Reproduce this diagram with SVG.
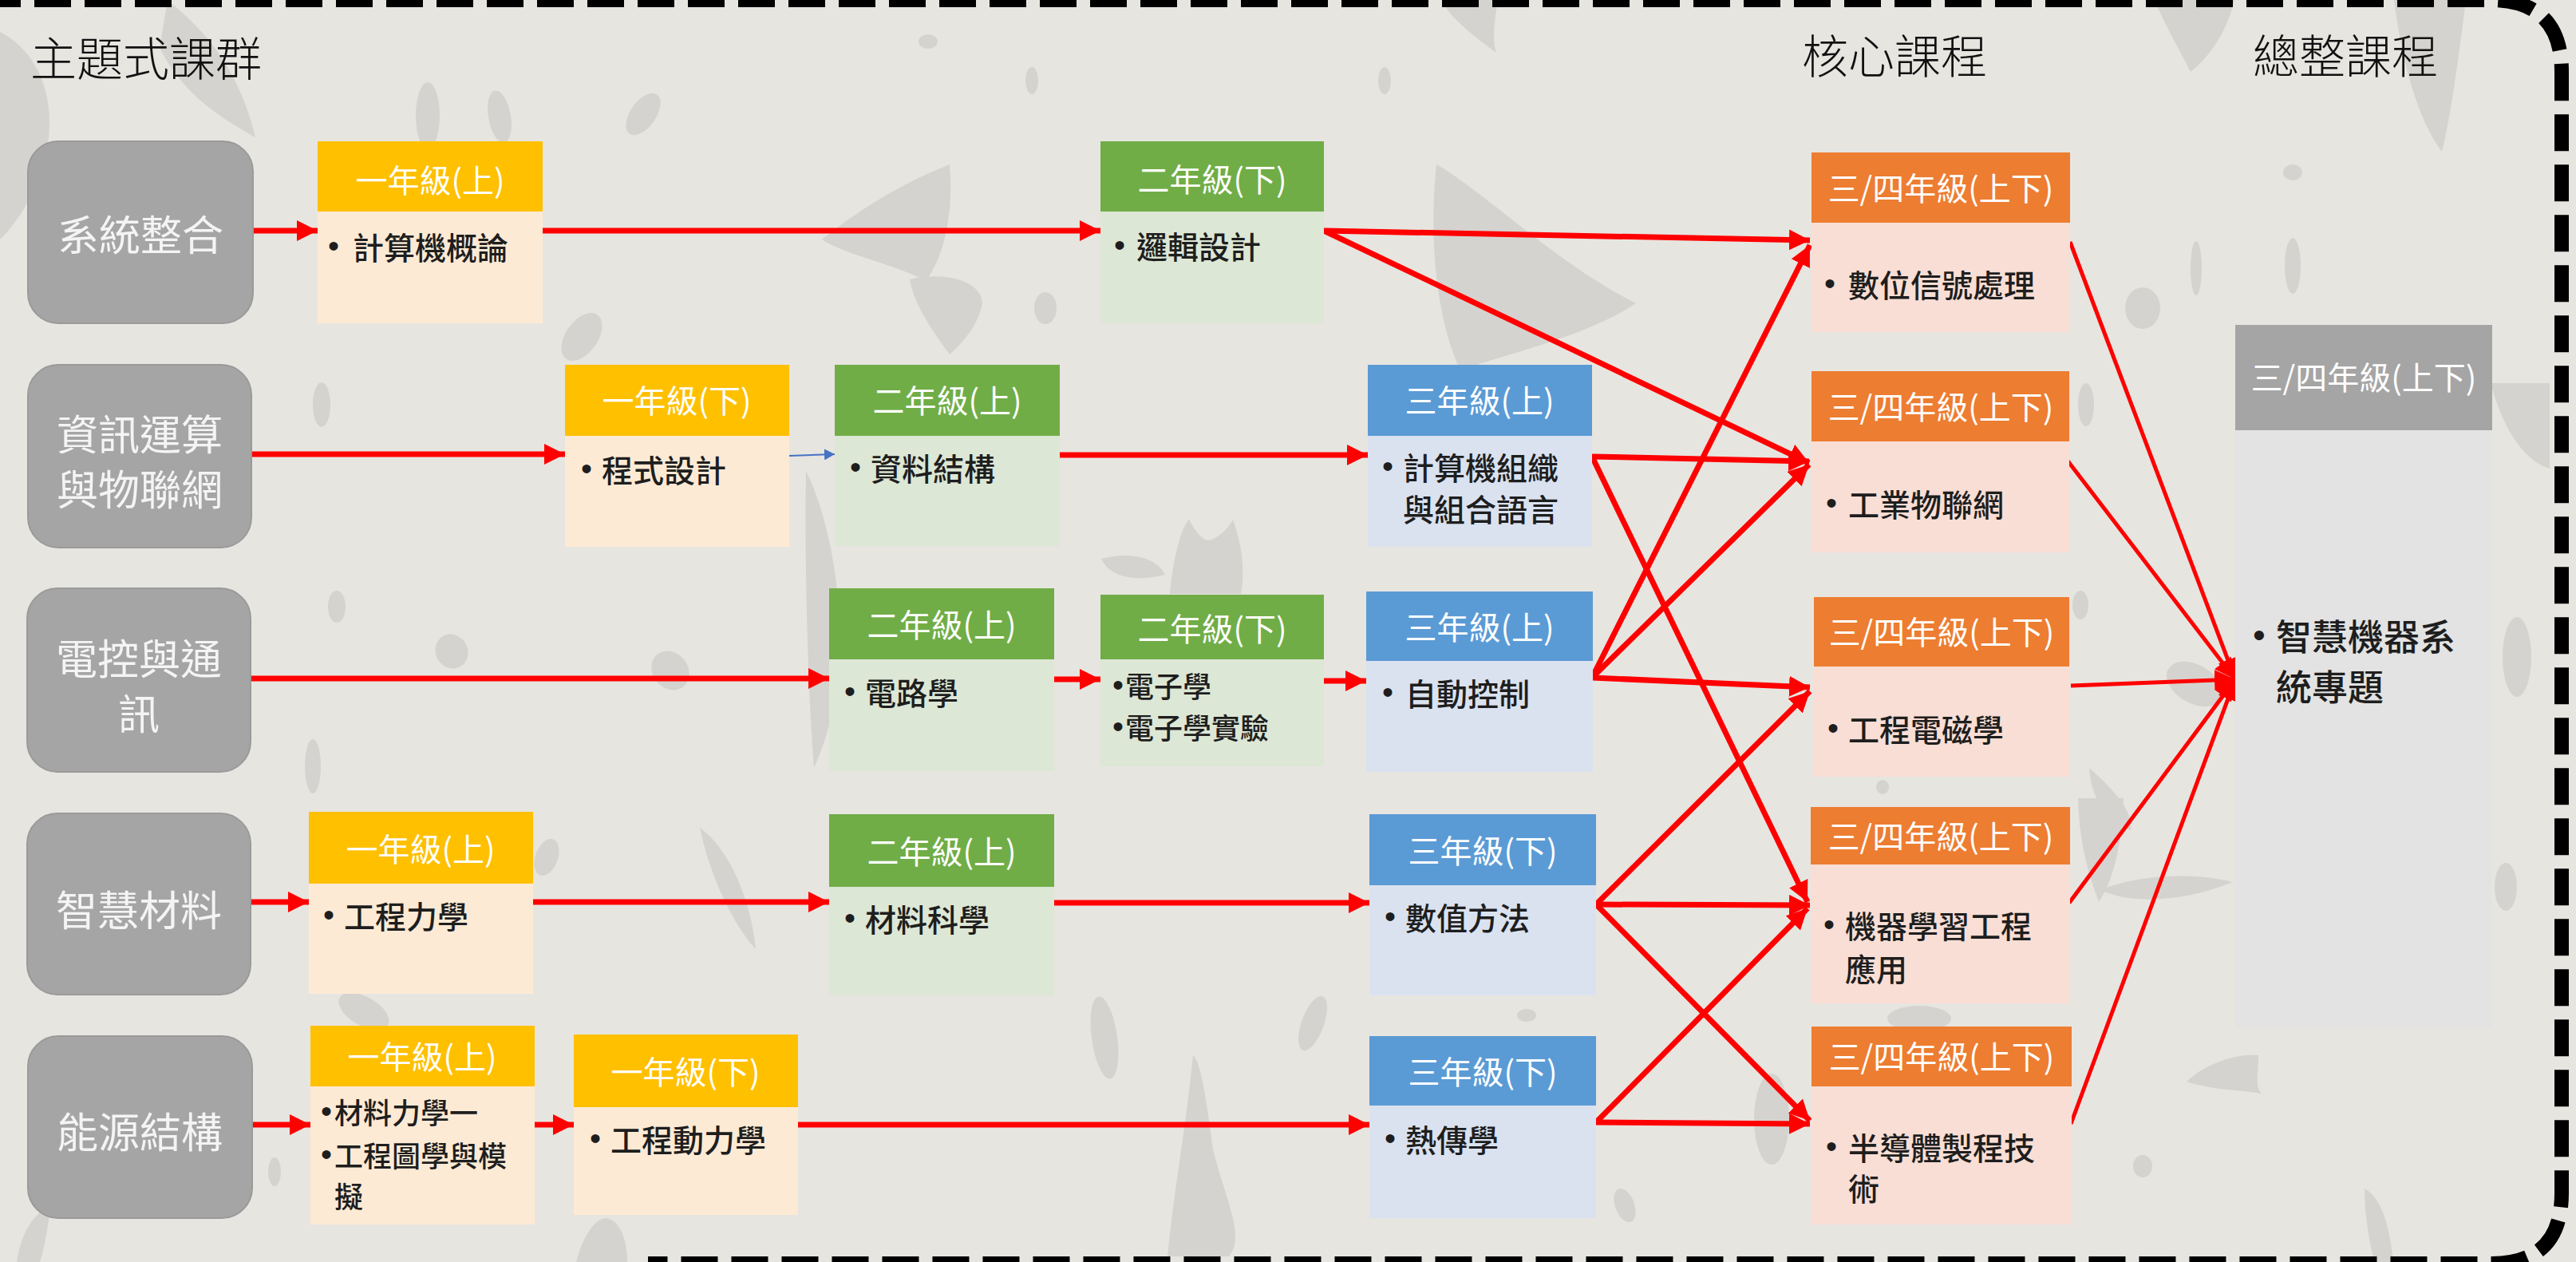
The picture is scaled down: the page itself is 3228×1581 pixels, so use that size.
<svg xmlns="http://www.w3.org/2000/svg" width="3228" height="1581" viewBox="0 0 3228 1581">
<style>
text{font-family:'Noto Sans CJK TC','Noto Sans CJK SC',sans-serif;dominant-baseline:central}
.title{font-size:58px;fill:#111;font-weight:300}
.g{fill:#A5A5A5;stroke:#9A9A9A;stroke-width:2}
.gt{font-size:52px;fill:#F4F4F4;text-anchor:middle}
.hy{fill:#FFC000}.by{fill:#FDEAD5}
.hg{fill:#70AD47}.bg{fill:#DDE7D5}
.hb{fill:#5B9BD5}.bb{fill:#DAE2F0}
.ho{fill:#ED7D31}.bo{fill:#F9DED5}
.hx{fill:#A5A5A5}.bx{fill:#E3E3E3}
.ht{font-size:40px;fill:#FFFFFF;text-anchor:middle}
.bt{font-size:39px;fill:#1E1E1E;font-weight:500}
.bs{font-size:36px;fill:#1E1E1E;font-weight:500}
.bu{font-family:'Liberation Sans',sans-serif;font-size:40px;fill:#1E1E1E;text-anchor:middle}
.ln{stroke:#FF0000;stroke-width:7;fill:none;marker-end:url(#ah)}
.lt{stroke:#FF0000;stroke-width:5;fill:none;marker-end:url(#ah)}
.lb{stroke:#4472C4;stroke-width:2;fill:none;marker-end:url(#ahb)}
.blob{fill:#D5D3CF}
</style>
<defs>
<marker id="ah" markerUnits="userSpaceOnUse" markerWidth="28" markerHeight="26" refX="26" refY="13" orient="auto"><path d="M0,0 L26,13 L0,26 z" fill="#FF0000"/></marker>
<marker id="ahb" markerUnits="userSpaceOnUse" markerWidth="14" markerHeight="14" refX="13" refY="7" orient="auto"><path d="M0,0 L13,7 L0,14 z" fill="#4472C4"/></marker>
</defs>
<rect x="0" y="0" width="3228" height="1581" fill="#E7E5E0"/>
<g id="background-pattern">
<path class="blob" d="M0,40 C40,60 70,110 60,180 C50,240 20,280 0,300 Z"/>
<path class="blob" d="M210,0 C260,40 300,90 320,172 C280,150 230,120 200,60 Z"/>
<ellipse class="blob" cx="536" cy="145" rx="15" ry="42"/>
<ellipse class="blob" cx="626" cy="146" rx="14" ry="33" transform="rotate(-10 626 146)"/>
<ellipse class="blob" cx="806" cy="143" rx="30" ry="16" transform="rotate(-55 806 143)"/>
<ellipse class="blob" cx="729" cy="422" rx="34" ry="20" transform="rotate(-55 729 422)"/>
<ellipse class="blob" cx="1163" cy="52" rx="12" ry="9"/>
<ellipse class="blob" cx="1293" cy="101" rx="8" ry="17"/>
<ellipse class="blob" cx="1735" cy="101" rx="8" ry="17"/>
<path class="blob" d="M1030,300 C1080,260 1130,230 1190,206 C1195,260 1185,320 1160,352 C1120,330 1060,320 1030,300 Z"/>
<path class="blob" d="M1140,350 C1180,340 1230,350 1231,380 C1225,410 1205,430 1190,444 C1165,410 1145,380 1140,350 Z"/>
<ellipse class="blob" cx="1310" cy="386" rx="14" ry="20"/>
<path class="blob" d="M1800,206 C1860,240 1950,330 2050,380 C1990,420 1900,440 1830,464 C1800,400 1790,300 1800,206 Z"/>
<path class="blob" d="M1807,0 L1877,0 C1872,30 1870,50 1875,66 C1840,40 1815,20 1807,0 Z"/>
<ellipse class="blob" cx="403" cy="507" rx="11" ry="28"/>
<ellipse class="blob" cx="422" cy="760" rx="11" ry="20"/>
<ellipse class="blob" cx="566" cy="816" rx="20" ry="22" transform="rotate(-30 566 816)"/>
<ellipse class="blob" cx="840" cy="840" rx="22" ry="26" transform="rotate(-40 840 840)"/>
<ellipse class="blob" cx="392" cy="960" rx="10" ry="34"/>
<path class="blob" d="M1010,590 C1040,650 1060,760 1050,850 C1045,900 1030,940 1020,962 C1012,860 1008,700 1010,590 Z"/>
<path class="blob" d="M1466,744 C1470,700 1480,660 1490,651 C1500,670 1510,680 1518,676 C1530,672 1540,660 1545,651 C1555,680 1561,710 1555,744 Z"/>
<path class="blob" d="M1380,700 C1420,690 1450,700 1460,720 C1420,730 1390,722 1380,700 Z"/>
<path class="blob" d="M877,1037 C910,1060 940,1120 947,1189 C920,1160 890,1100 877,1037 Z"/>
<ellipse class="blob" cx="685" cy="1074" rx="14" ry="24" transform="rotate(20 685 1074)"/>
<ellipse class="blob" cx="456" cy="1267" rx="35" ry="18" transform="rotate(30 456 1267)"/>
<ellipse class="blob" cx="344" cy="1468" rx="8" ry="18"/>
<path class="blob" d="M722,1581 C730,1550 745,1526 760,1526 C780,1530 786,1560 786,1581 Z"/>
<path class="blob" d="M21,1581 C25,1550 40,1520 63,1511 C60,1540 55,1565 50,1581 Z"/>
<path class="blob" d="M1463,1574 C1470,1500 1485,1420 1495,1322 C1505,1330 1512,1380 1520,1440 C1535,1500 1561,1550 1540,1574 Z"/>
<ellipse class="blob" cx="1384" cy="1300" rx="16" ry="52" transform="rotate(-8 1384 1300)"/>
<ellipse class="blob" cx="1645" cy="1282" rx="14" ry="36" transform="rotate(20 1645 1282)"/>
<ellipse class="blob" cx="1913" cy="1272" rx="12" ry="8"/>
<ellipse class="blob" cx="2036" cy="1510" rx="12" ry="22" transform="rotate(-20 2036 1510)"/>
<path class="blob" d="M2700,0 L2800,0 C2790,40 2770,70 2745,90 C2730,60 2712,30 2700,0 Z"/>
<path class="blob" d="M3000,0 L3090,0 C3080,80 3070,150 3060,190 C3030,150 3010,80 3000,0 Z"/>
<ellipse class="blob" cx="2873" cy="216" rx="12" ry="10"/>
<ellipse class="blob" cx="2873" cy="333" rx="10" ry="35"/>
<ellipse class="blob" cx="2752" cy="336" rx="7" ry="34"/>
<ellipse class="blob" cx="2685" cy="386" rx="22" ry="26"/>
<ellipse class="blob" cx="2614" cy="507" rx="10" ry="27"/>
<ellipse class="blob" cx="2607" cy="758" rx="10" ry="18"/>
<ellipse class="blob" cx="2359" cy="986" rx="8" ry="9"/>
<path class="blob" d="M2618,962 C2650,990 2675,1020 2670,1040 C2640,1030 2620,1000 2618,962 Z"/>
<path class="blob" d="M3121,480 L3195,480 L3195,587 C3170,580 3140,550 3121,480 Z"/>
<ellipse class="blob" cx="3154" cy="823" rx="18" ry="50"/>
<ellipse class="blob" cx="2750" cy="857" rx="38" ry="24" transform="rotate(30 2750 857)"/>
<path class="blob" d="M2604,1000 L2661,1000 C2660,1050 2650,1100 2630,1130 C2615,1090 2605,1050 2604,1000 Z"/>
<path class="blob" d="M2632,1115 C2680,1095 2750,1093 2798,1105 C2750,1125 2680,1137 2632,1115 Z"/>
<path class="blob" d="M2740,1355 C2760,1335 2800,1319 2830,1322 C2830,1345 2825,1360 2834,1370 C2800,1365 2770,1365 2740,1355 Z"/>
<ellipse class="blob" cx="2685" cy="1461" rx="12" ry="14"/>
<path class="blob" d="M2963,1489 C2985,1500 2995,1540 2999,1581 L2975,1581 C2968,1550 2963,1520 2963,1489 Z"/>
<ellipse class="blob" cx="3140" cy="1111" rx="14" ry="30"/>
<ellipse class="blob" cx="2220" cy="1402" rx="22" ry="57"/>
<ellipse class="blob" cx="2405" cy="1276" rx="40" ry="16"/>
</g>
<path id="frame" d="M-20,0 L3120,0 Q3210,0 3210,90 L3210,1495 Q3210,1583 3122,1583 L812,1583" fill="none" stroke="#000" stroke-width="18" stroke-dasharray="46 17"/>
<g id="headings">
<text class="title" x="38" y="70">主題式課群</text>
<text class="title" x="2258" y="67">核心課程</text>
<text class="title" x="2823" y="67">總整課程</text>
</g>
<g id="connectors">
<line class="ln" x1="317" y1="289" x2="398" y2="289"/>
<line class="ln" x1="680" y1="289" x2="1379" y2="289"/>
<line class="ln" x1="1659" y1="289" x2="2268" y2="301"/>
<line class="ln" x1="1659" y1="289" x2="2267" y2="580"/>
<line class="ln" x1="315" y1="569" x2="708" y2="569"/>
<line class="lb" x1="989" y1="571" x2="1046" y2="569"/>
<line class="ln" x1="1328" y1="570" x2="1714" y2="570"/>
<line class="ln" x1="1995" y1="572" x2="2267" y2="578"/>
<line class="ln" x1="1995" y1="572" x2="2265" y2="1130"/>
<line class="ln" x1="314" y1="850" x2="1039" y2="850"/>
<line class="ln" x1="1321" y1="851" x2="1379" y2="851"/>
<line class="ln" x1="1659" y1="853" x2="1712" y2="853"/>
<line class="ln" x1="1995" y1="849" x2="2268" y2="307"/>
<line class="ln" x1="1995" y1="849" x2="2267" y2="582"/>
<line class="ln" x1="1995" y1="849" x2="2268" y2="861"/>
<line class="ln" x1="314" y1="1130" x2="387" y2="1130"/>
<line class="ln" x1="668" y1="1130" x2="1039" y2="1130"/>
<line class="ln" x1="1321" y1="1131" x2="1716" y2="1131"/>
<line class="ln" x1="2000" y1="1133" x2="2268" y2="866"/>
<line class="ln" x1="2000" y1="1133" x2="2268" y2="1134"/>
<line class="ln" x1="2000" y1="1133" x2="2268" y2="1404"/>
<line class="ln" x1="316" y1="1409" x2="389" y2="1409"/>
<line class="ln" x1="670" y1="1409" x2="719" y2="1409"/>
<line class="ln" x1="1000" y1="1409" x2="1716" y2="1409"/>
<line class="ln" x1="2000" y1="1406" x2="2265" y2="1138"/>
<line class="ln" x1="2000" y1="1406" x2="2268" y2="1408"/>
<line class="lt" x1="2594" y1="303" x2="2801" y2="851"/>
<line class="lt" x1="2590" y1="576" x2="2801" y2="851"/>
<line class="lt" x1="2595" y1="859" x2="2801" y2="851"/>
<line class="lt" x1="2593" y1="1131" x2="2801" y2="851"/>
<line class="lt" x1="2595" y1="1408" x2="2801" y2="851"/>
</g>
<g id="theme-1"><rect class="g" x="35" y="177" width="282" height="228" rx="38"/><text class="gt" x="176" y="291">系統整合</text></g>
<g id="theme-2"><rect class="g" x="35" y="457" width="280" height="229" rx="38"/><text class="gt" x="175" y="541">資訊運算</text><text class="gt" x="175" y="610">與物聯網</text></g>
<g id="theme-3"><rect class="g" x="34" y="737" width="280" height="230" rx="38"/><text class="gt" x="174" y="822">電控與通</text><text class="gt" x="174" y="891">訊</text></g>
<g id="theme-4"><rect class="g" x="34" y="1019" width="280" height="227" rx="38"/><text class="gt" x="174" y="1137">智慧材料</text></g>
<g id="theme-5"><rect class="g" x="35" y="1298" width="281" height="228" rx="38"/><text class="gt" x="175" y="1415">能源結構</text></g>

<g id="r1-y1a"><rect class="hy" x="398" y="177" width="282" height="88"/><rect class="by" x="398" y="265" width="282" height="140"/><text class="ht" x="539" y="224">一年級(上)</text><text class="bu" x="418" y="308">•</text><text class="bt" x="442" y="308">計算機概論</text></g>
<g id="r1-y2b"><rect class="hg" x="1379" y="177" width="280" height="88"/><rect class="bg" x="1379" y="265" width="280" height="140"/><text class="ht" x="1519" y="223">二年級(下)</text><text class="bu" x="1403" y="307">•</text><text class="bt" x="1424" y="307">邏輯設計</text></g>

<g id="r2-y1b"><rect class="hy" x="708" y="457" width="281" height="89"/><rect class="by" x="708" y="546" width="281" height="139"/><text class="ht" x="848" y="500">一年級(下)</text><text class="bu" x="735" y="587">•</text><text class="bt" x="754" y="587">程式設計</text></g>
<g id="r2-y2a"><rect class="hg" x="1046" y="457" width="282" height="89"/><rect class="bg" x="1046" y="546" width="282" height="138"/><text class="ht" x="1187" y="500">二年級(上)</text><text class="bu" x="1072" y="585">•</text><text class="bt" x="1091" y="585">資料結構</text></g>
<g id="r2-y3a"><rect class="hb" x="1714" y="457" width="281" height="89"/><rect class="bb" x="1714" y="546" width="281" height="139"/><text class="ht" x="1854" y="500">三年級(上)</text><text class="bu" x="1739" y="584">•</text><text class="bt" x="1758" y="584">計算機組織</text><text class="bt" x="1758" y="636">與組合語言</text></g>

<g id="r3-y2a"><rect class="hg" x="1039" y="737" width="282" height="89"/><rect class="bg" x="1039" y="826" width="282" height="140"/><text class="ht" x="1180" y="781">二年級(上)</text><text class="bu" x="1065" y="866">•</text><text class="bt" x="1084" y="866">電路學</text></g>
<g id="r3-y2b"><rect class="hg" x="1379" y="745" width="280" height="81"/><rect class="bg" x="1379" y="826" width="280" height="134"/><text class="ht" x="1519" y="786">二年級(下)</text><text class="bu" x="1401" y="858">•</text><text class="bs" x="1410" y="858">電子學</text><text class="bu" x="1401" y="910">•</text><text class="bs" x="1410" y="910">電子學實驗</text></g>
<g id="r3-y3a"><rect class="hb" x="1712" y="741" width="284" height="87"/><rect class="bb" x="1712" y="828" width="284" height="139"/><text class="ht" x="1854" y="784">三年級(上)</text><text class="bu" x="1739" y="867">•</text><text class="bt" x="1761" y="867">自動控制</text></g>

<g id="r4-y1a"><rect class="hy" x="387" y="1017" width="281" height="90"/><rect class="by" x="387" y="1107" width="281" height="138"/><text class="ht" x="527" y="1062">一年級(上)</text><text class="bu" x="412" y="1146">•</text><text class="bt" x="431" y="1146">工程力學</text></g>
<g id="r4-y2a"><rect class="hg" x="1039" y="1020" width="282" height="91"/><rect class="bg" x="1039" y="1111" width="282" height="136"/><text class="ht" x="1180" y="1065">二年級(上)</text><text class="bu" x="1065" y="1150">•</text><text class="bt" x="1084" y="1150">材料科學</text></g>
<g id="r4-y3b"><rect class="hb" x="1716" y="1020" width="284" height="89"/><rect class="bb" x="1716" y="1109" width="284" height="138"/><text class="ht" x="1858" y="1064">三年級(下)</text><text class="bu" x="1742" y="1148">•</text><text class="bt" x="1761" y="1148">數值方法</text></g>

<g id="r5-y1a"><rect class="hy" x="389" y="1285" width="281" height="76"/><rect class="by" x="389" y="1361" width="281" height="173"/><text class="ht" x="529" y="1322">一年級(上)</text><text class="bu" x="409" y="1392">•</text><text class="bs" x="419" y="1392">材料力學一</text><text class="bu" x="409" y="1446">•</text><text class="bs" x="419" y="1446">工程圖學與模</text><text class="bs" x="419" y="1497">擬</text></g>
<g id="r5-y1b"><rect class="hy" x="719" y="1296" width="281" height="91"/><rect class="by" x="719" y="1387" width="281" height="135"/><text class="ht" x="859" y="1341">一年級(下)</text><text class="bu" x="746" y="1426">•</text><text class="bt" x="765" y="1426">工程動力學</text></g>
<g id="r5-y3b"><rect class="hb" x="1716" y="1298" width="284" height="87"/><rect class="bb" x="1716" y="1385" width="284" height="141"/><text class="ht" x="1858" y="1341">三年級(下)</text><text class="bu" x="1742" y="1426">•</text><text class="bt" x="1761" y="1426">熱傳學</text></g>

<g id="core-1"><rect class="ho" x="2270" y="191" width="324" height="88"/><rect class="bo" x="2270" y="279" width="324" height="137"/><text class="ht" x="2432" y="234">三/四年級(上下)</text><text class="bu" x="2293" y="355">•</text><text class="bt" x="2316" y="355">數位信號處理</text></g>
<g id="core-2"><rect class="ho" x="2270" y="465" width="323" height="88"/><rect class="bo" x="2270" y="553" width="323" height="139"/><text class="ht" x="2432" y="508">三/四年級(上下)</text><text class="bu" x="2295" y="630">•</text><text class="bt" x="2316" y="630">工業物聯網</text></g>
<g id="core-3"><rect class="ho" x="2273" y="748" width="320" height="87"/><rect class="bo" x="2273" y="835" width="320" height="138"/><text class="ht" x="2433" y="790">三/四年級(上下)</text><text class="bu" x="2297" y="912">•</text><text class="bt" x="2316" y="912">工程電磁學</text></g>
<g id="core-4"><rect class="ho" x="2269" y="1011" width="325" height="72"/><rect class="bo" x="2269" y="1083" width="325" height="174"/><text class="ht" x="2432" y="1046">三/四年級(上下)</text><text class="bu" x="2292" y="1158">•</text><text class="bt" x="2312" y="1158">機器學習工程</text><text class="bt" x="2312" y="1212">應用</text></g>
<g id="core-5"><rect class="ho" x="2270" y="1286" width="326" height="75"/><rect class="bo" x="2270" y="1361" width="326" height="173"/><text class="ht" x="2433" y="1322">三/四年級(上下)</text><text class="bu" x="2295" y="1436">•</text><text class="bt" x="2316" y="1436">半導體製程技</text><text class="bt" x="2316" y="1487">術</text></g>

<g id="capstone"><rect class="hx" x="2801" y="407" width="322" height="132"/><rect class="bx" x="2801" y="539" width="322" height="748"/><text class="ht" x="2962" y="471">三/四年級(上下)</text><text class="bu" x="2831" y="795" style="font-size:45px">•</text><text class="bt" x="2852" y="795" style="font-size:45px">智慧機器系</text><text class="bt" x="2852" y="858" style="font-size:45px">統專題</text></g>
</svg>
